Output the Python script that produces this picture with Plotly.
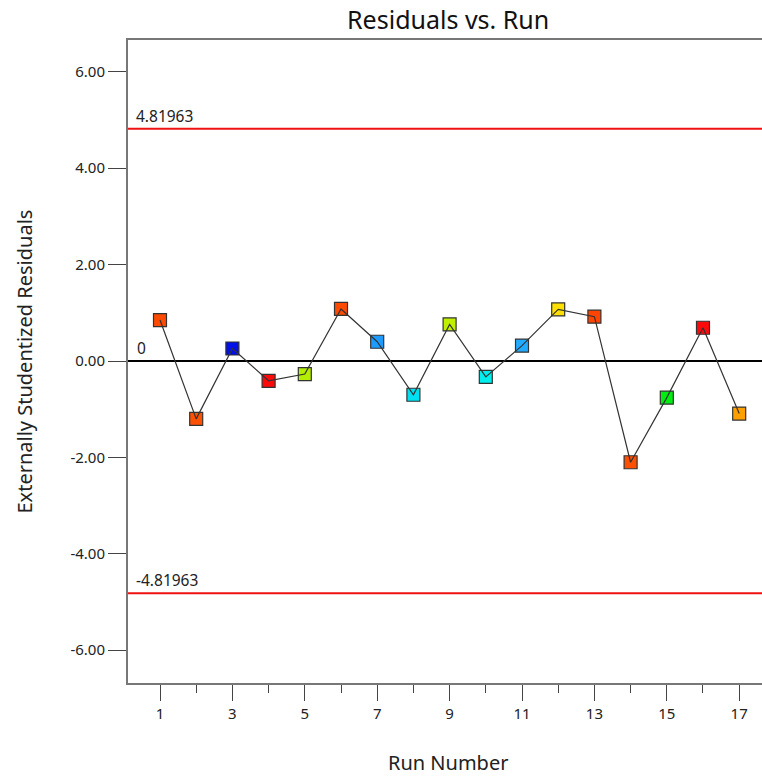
import plotly.graph_objects as go

runs = list(range(1, 18))
residuals = [0.85, -1.20, 0.26, -0.41, -0.27, 1.08, 0.40, -0.70, 0.76, -0.33,
             0.32, 1.07, 0.92, -2.10, -0.76, 0.69, -1.09]
colors = ["#FF4A00", "#FF5200", "#0010E8", "#FF0A0A", "#B4EE00", "#FF4A00",
          "#1E9BFF", "#00E0F0", "#C0F000", "#00EEEE", "#22AAFF", "#FFE000",
          "#FF4400", "#FF5000", "#00EE10", "#FF0A0A", "#FFA000"]
limit = 4.81963
y_ticks = [-6, -4, -2, 0, 2, 4, 6]
y_tick_text = ["-6.00", "-4.00", "-2.00", "0.00", "2.00", "4.00", "6.00"]
x_ticks = [1, 3, 5, 7, 9, 11, 13, 15, 17]

FONT = "Noto Sans"

fig = go.Figure()
fig.add_trace(go.Scatter(
    x=runs, y=residuals, mode="markers",
    marker=dict(symbol="square", size=13, color=colors,
                line=dict(color="#333333", width=1.2)),
    showlegend=False, hoverinfo="x+y"))
fig.add_trace(go.Scatter(
    x=runs, y=residuals, mode="lines",
    line=dict(color="#333333", width=1.2),
    showlegend=False, hoverinfo="skip"))

for v in (limit, -limit):
    fig.add_shape(type="line", xref="paper", x0=0, x1=1, y0=v, y1=v,
                  line=dict(color="#EE1111", width=2), layer="below")
    fig.add_annotation(xref="paper", x=0.009, y=v, yref="y", text=f"{v:.5f}",
                       showarrow=False, xanchor="left", yanchor="bottom",
                       yshift=0, font=dict(family=FONT, size=15.5, color="#222"))
fig.add_shape(type="line", xref="paper", x0=0, x1=1, y0=0, y1=0,
              line=dict(color="black", width=2), layer="below")
fig.add_annotation(xref="paper", x=0.011, y=0, text="0", showarrow=False,
                   xanchor="left", yanchor="bottom", yshift=0,
                   font=dict(family=FONT, size=15.5, color="#222"))

fig.add_annotation(xref="paper", yref="paper", x=-0.164, y=0.5,
                   text="Externally Studentized Residuals", textangle=-90,
                   showarrow=False, xanchor="center", yanchor="middle",
                   font=dict(family=FONT, size=20, color="#222"))
fig.add_annotation(xref="paper", yref="paper", x=0.505, y=-0.124,
                   text="Run Number", showarrow=False,
                   xanchor="center", yanchor="middle",
                   font=dict(family=FONT, size=20, color="#222"))

fig.update_layout(
    width=762, height=782,
    margin=dict(l=128, r=0, t=40, b=99),
    plot_bgcolor="white", paper_bgcolor="white",
    title=dict(text="Residuals vs. Run", x=0.505, xref="paper", xanchor="center",
               y=1 - 20 / 782, yanchor="middle", yref="container",
               font=dict(family=FONT, size=25, color="#111")),
    font=dict(family=FONT, size=15, color="#222"),
    xaxis=dict(range=[0.116, 17.63], tickmode="array", tickvals=x_ticks,
               ticks="outside", ticklen=16, tickwidth=1, tickcolor="#444",
               minor=dict(tickmode="array", tickvals=[2, 4, 6, 8, 10, 12, 14, 16],
                          ticks="outside", ticklen=8, tickcolor="#444", tickwidth=1),
               showline=True, linecolor="#777", linewidth=2, mirror=True,
               showgrid=False, zeroline=False, tickfont=dict(size=15)),
    yaxis=dict(range=[-6.68, 6.66], tickmode="array", tickvals=y_ticks,
               ticktext=y_tick_text, ticks="outside", ticklen=18, tickwidth=1,
               tickcolor="#444", showline=True, linecolor="#777", linewidth=2,
               showgrid=False, zeroline=False, tickfont=dict(size=15)),
)

fig.write_html("out.html")
